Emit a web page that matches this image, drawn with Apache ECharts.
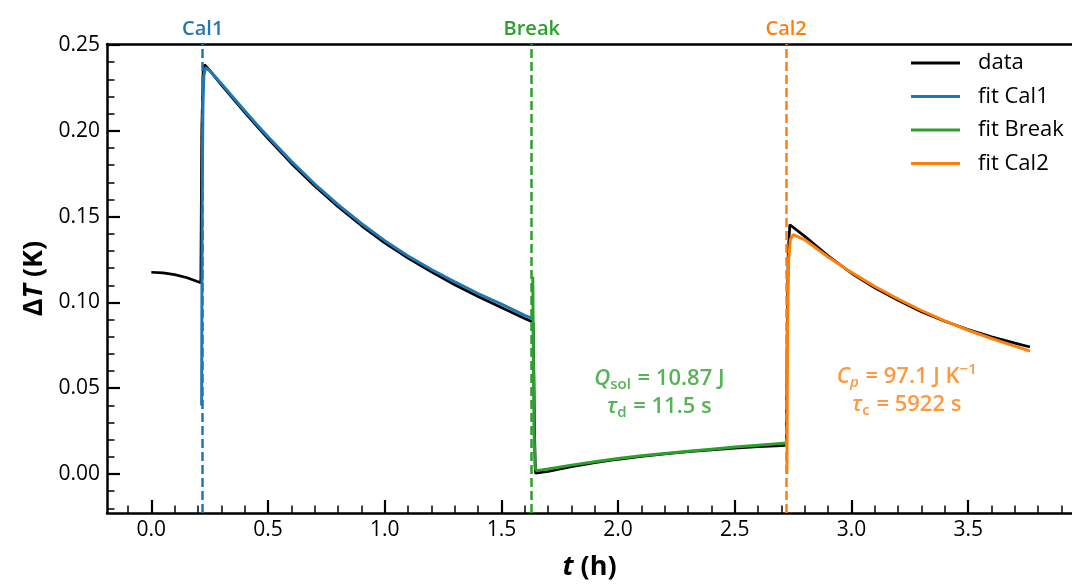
<!DOCTYPE html>
<html><head><meta charset="utf-8">
<script src="https://cdn.jsdelivr.net/npm/echarts@6/dist/echarts.min.js"></script>
<style>html,body{margin:0;padding:0;background:#fff}#c{width:1072px;height:586px}</style>
</head><body><div id="c"></div>
<script>
// ---- data ----
const dataT = [0.00,0.05,0.10,0.15,0.212,0.216,0.222,0.228,0.25,0.30,0.35,0.40,0.45,0.50,0.60,0.70,0.80,0.90,1.00,1.10,1.20,1.30,1.40,1.50,1.60,1.636,1.639,1.642,1.646,1.70,1.80,1.90,2.00,2.10,2.20,2.30,2.40,2.50,2.60,2.70,2.721,2.725,2.729,2.736,2.80,2.90,3.00,3.10,3.20,3.30,3.40,3.50,3.60,3.70,3.765];
const dataY = [0.1176,0.1172,0.1162,0.1145,0.1115,0.200,0.235,0.2385,0.2352,0.2268,0.2188,0.2108,0.2030,0.1955,0.1810,0.1678,0.1558,0.1448,0.1347,0.1258,0.1178,0.1103,0.1035,0.0970,0.0906,0.0884,0.060,0.025,0.0005,0.0015,0.0043,0.0066,0.0086,0.0103,0.0118,0.0130,0.0141,0.0151,0.0160,0.0166,0.0168,0.090,0.130,0.1453,0.1385,0.1272,0.1170,0.1085,0.1012,0.0946,0.0890,0.0842,0.0800,0.0763,0.0740];

const fitCal1T = [0.2155,0.218,0.221,0.225,0.232,0.25,0.30,0.35,0.40,0.45,0.50,0.60,0.70,0.80,0.90,1.00,1.10,1.20,1.30,1.40,1.50,1.60,1.634];
const fitCal1Y = [0.040,0.160,0.215,0.232,0.2368,0.2352,0.2275,0.2196,0.2117,0.2040,0.1965,0.1822,0.1690,0.1570,0.1460,0.1360,0.1271,0.1192,0.1120,0.1052,0.0990,0.0925,0.0905];

const fitBreakT = [1.6345,1.637,1.640,1.644,1.65,1.70,1.80,1.90,2.00,2.10,2.20,2.30,2.40,2.50,2.60,2.723];
const fitBreakY = [0.115,0.070,0.025,0.004,0.0020,0.0030,0.0052,0.0072,0.0090,0.0106,0.0120,0.0133,0.0145,0.0157,0.0168,0.0181];

const fitCal2T = [2.7235,2.726,2.731,2.738,2.750,2.80,2.90,3.00,3.10,3.20,3.30,3.40,3.50,3.60,3.70,3.765];
const fitCal2Y = [0.000,0.085,0.125,0.1365,0.1395,0.1365,0.1265,0.1175,0.1093,0.1020,0.0953,0.0892,0.0838,0.0790,0.0745,0.0716];

const eventNames = ['Cal1','Break','Cal2'];
const eventTimes = [0.2155,1.634,2.723];

const xMajorTicks = [0,0.5,1.0,1.5,2.0,2.5,3.0,3.5];
const xMinorTicks = [-0.1,0.1,0.2,0.3,0.4,0.6,0.7,0.8,0.9,1.1,1.2,1.3,1.4,1.6,1.7,1.8,1.9,2.1,2.2,2.3,2.4,2.6,2.7,2.8,2.9,3.1,3.2,3.3,3.4,3.6,3.7,3.8,3.9];
const yMajorTicks = [0,0.05,0.10,0.15,0.20,0.25];
const yMinorTicks = [-0.02,-0.01,0.01,0.02,0.03,0.04,0.06,0.07,0.08,0.09,0.11,0.12,0.13,0.14,0.16,0.17,0.18,0.19,0.21,0.22,0.23,0.24];

const legendNames = ['data','fit Cal1','fit Break','fit Cal2'];

// ---- styling ----
const FONT = "'Open Sans','Noto Sans',sans-serif";
const C_BLUE = '#1f77b4', C_GREEN = '#2ca02c', C_ORANGE = '#ff7f0e';
const X_MIN = -0.19, X_MAX = 3.945, Y_MIN = -0.0227, Y_MAX = 0.2506;

const zip = (a, b) => a.map((v, i) => [v, b[i]]);

function eventLine(i, color) {
  return {
    silent: true, symbol: ['none','none'], animation: false,
    lineStyle: {color: color, width: 2.5, type: [9,4]},
    label: {show: true, position: 'end', formatter: eventNames[i], color: color,
            fontSize: 20, fontFamily: FONT, fontWeight: 600, distance: 5},
    data: [{xAxis: eventTimes[i]}]
  };
}

function annoStyles(color) {
  const base = {color: color, fontFamily: FONT, fontWeight: 600};
  return {
    n:   Object.assign({fontSize: 22, lineHeight: 28}, base),
    it:  Object.assign({fontSize: 22, lineHeight: 28, fontStyle: 'italic'}, base),
    sub: Object.assign({fontSize: 15, lineHeight: 15, verticalAlign: 'bottom', padding:[0,1,0,0]}, base),
    isub:Object.assign({fontSize: 15, lineHeight: 15, verticalAlign: 'bottom', fontStyle:'italic', padding:[0,1,0,0]}, base),
    sup: Object.assign({fontSize: 15, lineHeight: 15, verticalAlign: 'top'}, base)
  };
}

const axisBlack = {color: '#000', width: 2.5};
const LEG_ICON = 'path://M0,0H49V2.8H0Z';

const option = {
  animation: false,
  backgroundColor: '#fff',
  grid: {left: 107, right: 0, top: 44, bottom: 72, containLabel: false},
  legend: {
    data: legendNames.map(n => ({name: n, icon: LEG_ICON})),
    orient: 'vertical', left: 906, top: 47, symbolKeepAspect: true,
    itemWidth: 49, itemHeight: 22, itemGap: 11.5,
    textStyle: {fontSize: 22, fontFamily: FONT, color: '#000', lineHeight: 22, padding: [0,0,0,13]}
  },
  xAxis: [
    {type: 'value', min: X_MIN, max: X_MAX, position: 'bottom',
     axisLine: {show: true, onZero: false, lineStyle: axisBlack},
     axisTick: {show: true, inside: true, length: 13, customValues: xMajorTicks, lineStyle: {color:'#000', width: 2.2}},
     axisLabel: {customValues: xMajorTicks, formatter: v => v.toFixed(1), fontSize: 21, fontFamily: FONT, color: '#000', margin: 7},
     splitLine: {show: false},
     name: '{i|t}{n| (h)}', nameLocation: 'middle', nameGap: 41,
     nameTextStyle: {rich: {
       i: {fontSize: 27, fontWeight: 'bold', fontStyle: 'italic', fontFamily: FONT, color: '#000'},
       n: {fontSize: 27, fontWeight: 'bold', fontFamily: FONT, color: '#000'}}}},
    {type: 'value', min: X_MIN, max: X_MAX, position: 'bottom',
     axisLine: {show: false, onZero: false},
     axisTick: {show: true, inside: true, length: 7.5, customValues: xMinorTicks, lineStyle: {color:'#000', width: 1.5}},
     axisLabel: {show: false}, splitLine: {show: false}},
    {type: 'value', min: X_MIN, max: X_MAX, position: 'top',
     axisLine: {show: true, onZero: false, lineStyle: axisBlack},
     axisTick: {show: false}, axisLabel: {show: false}, splitLine: {show: false}}
  ],
  yAxis: [
    {type: 'value', min: Y_MIN, max: Y_MAX, position: 'left',
     axisLine: {show: true, onZero: false, lineStyle: axisBlack},
     axisTick: {show: true, inside: true, length: 13, customValues: yMajorTicks, lineStyle: {color:'#000', width: 2.2}},
     axisLabel: {customValues: yMajorTicks, formatter: v => v.toFixed(2), fontSize: 21, fontFamily: FONT, color: '#000', margin: 7},
     splitLine: {show: false},
     name: '{n|Δ}{i|T}{n| (K)}', nameLocation: 'middle', nameGap: 52,
     nameTextStyle: {rich: {
       i: {fontSize: 27, fontWeight: 'bold', fontStyle: 'italic', fontFamily: FONT, color: '#000'},
       n: {fontSize: 27, fontWeight: 'bold', fontFamily: FONT, color: '#000'}}}},
    {type: 'value', min: Y_MIN, max: Y_MAX, position: 'left',
     axisLine: {show: false, onZero: false},
     axisTick: {show: true, inside: true, length: 7.5, customValues: yMinorTicks, lineStyle: {color:'#000', width: 1.5}},
     axisLabel: {show: false}, splitLine: {show: false}}
  ],
  series: [
    {name: 'data', type: 'line', data: zip(dataT, dataY), symbol: 'none', z: 2,
     lineStyle: {color: '#000', width: 2.7}, itemStyle: {color: '#000'}},
    {name: 'fit Cal1', type: 'line', data: zip(fitCal1T, fitCal1Y), symbol: 'none', z: 3,
     lineStyle: {color: C_BLUE, width: 3}, itemStyle: {color: C_BLUE}, markLine: eventLine(0, C_BLUE)},
    {name: 'fit Break', type: 'line', data: zip(fitBreakT, fitBreakY), symbol: 'none', z: 3,
     lineStyle: {color: C_GREEN, width: 3}, itemStyle: {color: C_GREEN}, markLine: eventLine(1, C_GREEN)},
    {name: 'fit Cal2', type: 'line', data: zip(fitCal2T, fitCal2Y), symbol: 'none', z: 3,
     lineStyle: {color: C_ORANGE, width: 3}, itemStyle: {color: C_ORANGE}, markLine: eventLine(2, C_ORANGE)},
    {name: 'annoBreak', type: 'scatter', data: [[2.177, 0.0474]], symbolSize: 0, silent: true, z: 5,
     label: {show: true, position: 'inside', align: 'center', verticalAlign: 'middle',
       formatter: '{it|Q}{sub|sol}{n| = 10.87 J}\n{it|τ}{sub|d}{n| = 11.5 s}', rich: annoStyles(C_GREEN)}},
    {name: 'annoCal2', type: 'scatter', data: [[3.237, 0.0488]], symbolSize: 0, silent: true, z: 5,
     label: {show: true, position: 'inside', align: 'center', verticalAlign: 'middle',
       formatter: '{it|C}{isub|p}{n| = 97.1 J K}{sup|−1}\n{it|τ}{sub|c}{n| = 5922 s}', rich: annoStyles(C_ORANGE)}}
  ]
};

const chart = echarts.init(document.getElementById('c'), null, {renderer: 'canvas'});
chart.setOption(option);
</script>
</body></html>
